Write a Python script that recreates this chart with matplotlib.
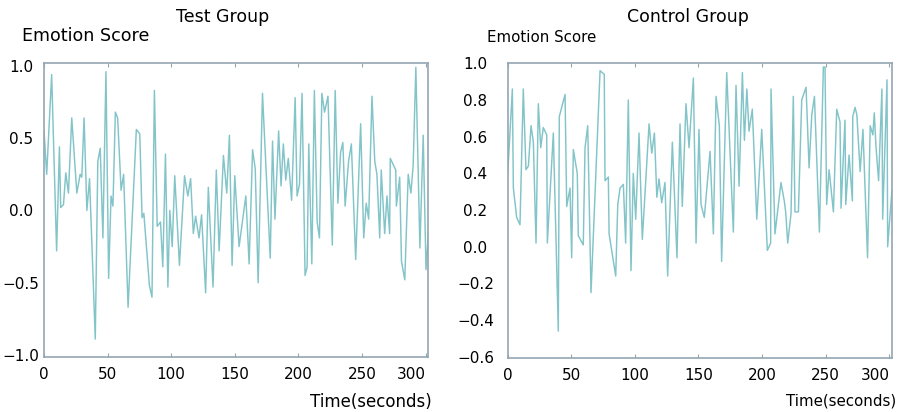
import matplotlib
matplotlib.use("Agg")
import matplotlib.pyplot as plt

# Test Group: time (s) and emotion score
test_time = [0.0, 2.1, 6.0, 9.9, 12.1, 13.1, 15.3, 17.1, 19.2, 21.8, 25.8, 28.4, 29.7, 31.5,
             33.7, 35.8, 40.3, 42.3, 44.2, 46.3, 48.7, 50.8, 52.7, 54.2, 56.1, 57.9, 60.6,
             62.6, 66.1, 72.6, 75.3, 77.1, 78.5, 82.9, 84.9, 86.8, 89.0, 91.6, 93.4, 95.5,
             97.4, 98.9, 100.8, 102.8, 106.5, 110.5, 113.1, 115.3, 117.4, 119.2, 121.9,
             123.9, 127.1, 129.2, 132.9, 135.5, 137.7, 141.1, 143.7, 145.8, 147.9, 150.0,
             153.4, 158.7, 161.3, 164.0, 166.1, 168.4, 171.8, 177.9, 179.7, 181.6, 184.5,
             186.4, 188.2, 190.1, 192.1, 194.7, 197.5, 199.0, 200.9, 202.9, 205.3, 206.9,
             208.2, 210.6, 212.6, 214.8, 216.6, 218.5, 220.6, 223.3, 226.7, 229.0, 231.1,
             233.2, 235.0, 236.8, 239.5, 241.7, 245.1, 249.0, 251.4, 253.4, 255.3, 257.9,
             260.1, 261.8, 264.0, 265.2, 267.9, 269.7, 271.8, 272.3, 276.6, 277.1, 279.7,
             281.1, 283.7, 286.4, 288.5, 290.3, 292.4, 295.6, 298.2, 300.4, 302.7]
test_score = [0.55, 0.25, 0.94, -0.28, 0.44, 0.02, 0.04, 0.26, 0.12, 0.64, 0.12, 0.25, 0.23, 0.64,
              0.00, 0.22, -0.89, 0.34, 0.43, -0.19, 0.96, -0.47, 0.10, 0.03, 0.68, 0.64, 0.14,
              0.25, -0.67, 0.56, 0.53, -0.05, -0.02, -0.52, -0.60, 0.83, -0.11, -0.08, -0.39, 0.39,
              -0.53, 0.00, -0.25, 0.24, -0.38, 0.24, 0.10, 0.22, -0.16, -0.04, -0.19,
              -0.03, -0.57, 0.16, -0.53, 0.28, -0.28, 0.38, 0.12, 0.52, -0.38, 0.24,
              -0.25, 0.10, -0.37, 0.42, 0.29, -0.50, 0.81, -0.33, 0.48, -0.06, 0.55,
              0.17, 0.46, 0.21, 0.36, 0.07, 0.78, 0.10, 0.18, 0.81, -0.45, -0.39,
              0.46, -0.37, 0.83, -0.08, -0.19, 0.81, 0.68, 0.79, -0.24, 0.83, 0.05,
              0.40, 0.47, 0.03, 0.34, 0.46, -0.34, 0.60, -0.19, 0.05, -0.06, 0.79,
              0.34, 0.25, -0.19, 0.28, -0.16, 0.10, -0.16, 0.36, 0.28, 0.03, 0.23,
              -0.35, -0.48, 0.25, 0.12, 0.31, 0.99, -0.26, 0.52, -0.41, -0.10]

# Control Group
control_time = [0.2, 3.8, 4.6, 7.2, 9.8, 12.4, 14.5, 16.4, 18.5, 20.3, 22.4, 24.2, 26.1, 28.1,
                30.8, 31.3, 36.0, 39.9, 40.7, 45.2, 46.5, 49.1, 50.4, 51.7, 54.8, 55.6, 59.5,
                60.9, 63.0, 65.6, 69.3, 72.7, 76.0, 76.6, 79.2, 79.8, 85.0, 86.6, 88.4, 91.0,
                92.8, 94.9, 97.0, 98.8, 100.7, 103.3, 105.9, 111.2, 113.3, 115.4, 117.3, 119.0,
                121.1, 123.7, 125.8, 129.5, 133.1, 135.5, 137.3, 140.2, 142.6, 146.0, 148.1,
                150.4, 152.0, 154.6, 159.1, 161.7, 163.8, 166.4, 168.2, 172.2, 177.4, 179.5,
                181.9, 184.5, 186.1, 188.0, 189.7, 192.3, 195.8, 199.7, 204.1, 206.7, 207.0,
                210.1, 214.8, 217.4, 218.5, 220.1, 222.7, 224.5, 225.8, 228.5, 231.1, 234.5,
                236.9, 239.0, 241.1, 245.0, 248.1, 249.4, 250.7, 252.6, 256.0, 258.6, 261.2,
                262.0, 265.1, 265.7, 268.3, 270.9, 271.2, 273.0, 274.4, 277.0, 279.2, 282.8,
                284.9, 287.0, 288.1, 289.4, 291.5, 294.1, 294.7, 298.1, 298.6, 302.0]
control_score = [0.40, 0.86, 0.32, 0.16, 0.12, 0.86, 0.42, 0.44, 0.66, 0.57, 0.02, 0.78, 0.54, 0.65,
                 0.61, 0.02, 0.62, -0.46, 0.71, 0.83, 0.22, 0.32, -0.06, 0.53, 0.40, 0.06, 0.01,
                 0.54, 0.66, -0.25, 0.38, 0.96, 0.94, 0.36, 0.38, 0.07, -0.16, 0.23, 0.32, 0.34,
                 0.02, 0.80, -0.13, 0.40, 0.15, 0.62, 0.04, 0.67, 0.51, 0.62, 0.27, 0.37,
                 0.24, 0.35, -0.16, 0.57, -0.06, 0.67, 0.22, 0.78, 0.54, 0.92, 0.02,
                 0.64, 0.23, 0.16, 0.52, 0.07, 0.82, 0.66, -0.08, 0.95, 0.08, 0.88,
                 0.33, 0.95, 0.58, 0.86, 0.63, 0.75, 0.15, 0.64, -0.02, 0.02, 0.86,
                 0.07, 0.35, 0.25, 0.19, 0.02, 0.18, 0.82, 0.19, 0.19, 0.80, 0.87,
                 0.43, 0.72, 0.82, 0.08, 0.98, 0.98, 0.23, 0.42, 0.19, 0.75, 0.68,
                 0.21, 0.69, 0.23, 0.50, 0.25, 0.71, 0.76, 0.72, 0.41, 0.64, -0.06,
                 0.66, 0.61, 0.73, 0.55, 0.36, 0.86, 0.15, 0.91, 0.00, 0.31]

x_ticks = [0, 50, 100, 150, 200, 250, 300]
test_yticks = [-1.0, -0.5, 0.0, 0.5, 1.0]
control_yticks = [-0.6, -0.4, -0.2, 0.0, 0.2, 0.4, 0.6, 0.8, 1.0]

line_color = "#82c4c8"
spine_color = "#93a6b1"

fig = plt.figure(figsize=(9.04, 4.12), dpi=100)
ax1 = fig.add_axes([0.0487, 0.1335, 0.4248, 0.7136])
ax2 = fig.add_axes([0.5614, 0.131, 0.4253, 0.717])

panels = [(ax1, test_time, test_score, test_yticks, (-1.014, 1.02), 16.5, 12),
          (ax2, control_time, control_score, control_yticks, (-0.607, 1.004), 23, 10.8)]

for ax, t, s, yt, ylim, ypad, xlab_size in panels:
    ax.plot(t, s, color=line_color, linewidth=1.05)
    ax.set_xlim(0, 302)
    ax.set_ylim(*ylim)
    ax.set_xticks(x_ticks)
    ax.set_yticks(yt)
    for sp in ax.spines.values():
        sp.set_color(spine_color)
        sp.set_linewidth(1.2)
    ax.tick_params(axis="x", direction="in", top=True, length=3, color=spine_color,
                   labelsize=11, pad=7)
    ax.tick_params(axis="y", length=0, labelsize=11, pad=ypad)
    for lab in ax.get_yticklabels():
        lab.set_horizontalalignment("center")
    # last x label kept inside the frame
    ax.get_xticklabels()[-1].set_horizontalalignment("right")
    ax.set_xlabel("Time(seconds)", fontsize=xlab_size, loc="right", labelpad=8)
    ax.xaxis.label.set_x(1.01)

fig.text(223 / 904, 1 - 17 / 412, "Test Group", ha="center", va="center", fontsize=12.5)
fig.text(688 / 904, 1 - 17 / 412, "Control Group", ha="center", va="center", fontsize=12.5)
fig.text(22 / 904, 1 - 36 / 412, "Emotion Score", ha="left", va="center", fontsize=12.6)
fig.text(487 / 904, 1 - 37 / 412, "Emotion Score", ha="left", va="center", fontsize=10.8)

fig.savefig("out.png", dpi=100)
